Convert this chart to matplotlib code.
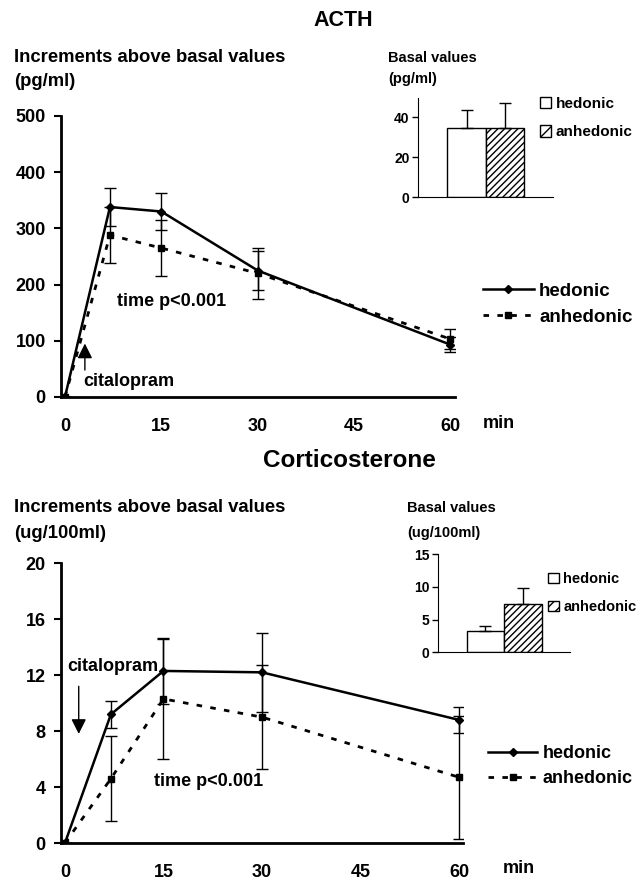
import matplotlib
matplotlib.use("Agg")
import matplotlib.pyplot as plt
from matplotlib.patches import Patch
from matplotlib.lines import Line2D

plt.rcParams['font.family'] = ['Liberation Sans', 'DejaVu Sans']
plt.rcParams['font.weight'] = 'bold'
plt.rcParams['hatch.linewidth'] = 1.0

# time points (min)
minutes = [0, 7, 15, 30, 60]
xticks = [0, 15, 30, 45, 60]
groups = ['hedonic', 'anhedonic']

# ACTH increments (pg/ml)
acth_hed = [0, 338, 330, 225, 93]
acth_hed_err = [0, 34, 33, 35, 13]
acth_anh = [0, 288, 265, 220, 103]
acth_anh_err = [0, 50, 50, 45, 18]
acth_basal = [34.5, 34.5]
acth_basal_err = [9, 12.5]

# corticosterone increments (ug/100ml)
cort_hed = [0, 9.2, 12.3, 12.2, 8.8]
cort_hed_err = [0, 0.95, 2.35, 2.8, 0.9]
cort_anh = [0, 4.6, 10.3, 9.0, 4.7]
cort_anh_err = [0, 3.05, 4.3, 3.7, 4.4]
cort_basal = [3.2, 7.4]
cort_basal_err = [0.8, 2.4]

fig = plt.figure(figsize=(6.44, 8.80), dpi=100)


def main_panel(rect, xlim, hed, hed_err, anh, anh_err, ylim, yticks):
    ax = fig.add_axes(rect)
    ax.errorbar(minutes, hed, yerr=hed_err, color='black', lw=1.8, marker='D', ms=4,
                ecolor='black', elinewidth=1, capsize=4, capthick=1)
    ax.errorbar(minutes, anh, yerr=anh_err, color='black', lw=2, ls=(0, (2, 3)), marker='s', ms=5,
                ecolor='black', elinewidth=1, capsize=4, capthick=1)
    ax.set_xlim(xlim)
    ax.set_ylim(ylim)
    ax.set_xticks(xticks)
    ax.set_yticks(yticks)
    for s in ['top', 'right']:
        ax.spines[s].set_visible(False)
    for s in ['left', 'bottom']:
        ax.spines[s].set_linewidth(2)
    ax.tick_params(axis='x', length=0, pad=15, labelsize=13)
    ax.tick_params(axis='y', length=5, width=1.5, pad=6, labelsize=13)
    return ax


def inset_panel(rect, vals, errs, ylim, yticks):
    ax = fig.add_axes(rect)
    pos = [0, 1]
    ax.bar(pos, vals, width=1.0, color='white', edgecolor='black', lw=1,
           hatch=['', '/////'], yerr=[[0, 0], errs],
           error_kw=dict(ecolor='black', elinewidth=1, capsize=4, capthick=1))
    ax.set_xlim(-1.26, 2.24)
    ax.set_ylim(ylim)
    ax.set_yticks(yticks)
    ax.set_xticks([])
    for s in ['top', 'right']:
        ax.spines[s].set_visible(False)
    ax.tick_params(axis='y', length=4, width=1, pad=2, labelsize=10)
    return ax


def line_legend(x, y, size=13.5):
    handles = [Line2D([], [], color='black', lw=1.8, marker='D', ms=4),
               Line2D([], [], color='black', lw=2, ls=(0, (2, 3)), marker='s', ms=5)]
    fig.legend(handles, groups, loc='upper left', bbox_to_anchor=(x, y), frameon=False,
               fontsize=size, handlelength=2.7, handletextpad=0.3, labelspacing=0.45)


def bar_legend(x, y, size=11):
    handles = [Patch(facecolor='white', edgecolor='black', lw=1),
               Patch(facecolor='white', edgecolor='black', lw=1, hatch='///')]
    fig.legend(handles, groups, loc='upper left', bbox_to_anchor=(x, y), frameon=False,
               fontsize=size, handlelength=0.75, handleheight=0.75, handletextpad=0.3,
               labelspacing=0.95)


# ACTH
ax1 = main_panel([0.0947, 0.5489, 0.6118, 0.3193], (-0.62, 60.7),
                 acth_hed, acth_hed_err, acth_anh, acth_anh_err, (0, 500), [0, 100, 200, 300, 400, 500])
ax1.annotate('', xy=(3.1, 100), xytext=(3.1, 43),
             arrowprops=dict(arrowstyle='-|>,head_length=0.9,head_width=0.45', color='black', lw=1))
ax1.text(2.8, 28, 'citalopram', fontsize=13, va='center', ha='left')
ax1.text(8.1, 169, 'time p<0.001', fontsize=13, va='center', ha='left')

ins1 = inset_panel([0.649, 0.776, 0.2096, 0.1125], acth_basal, acth_basal_err, (0, 49.5), [0, 20, 40])

fig.text(0.533, 1 - 20 / 880, 'ACTH', fontsize=15.5, ha='center', va='center')
fig.text(14 / 644, 1 - 57 / 880, 'Increments above basal values', fontsize=13.3, va='center')
fig.text(14 / 644, 1 - 82 / 880, '(pg/ml)', fontsize=13.3, va='center')
fig.text(388 / 644, 1 - 58 / 880, 'Basal values', fontsize=10.5, va='center')
fig.text(388 / 644, 1 - 79 / 880, '(pg/ml)', fontsize=10.5, va='center')
fig.text(483 / 644, 1 - 423 / 880, 'min', fontsize=13, va='center')
line_legend(466 / 644, 1 - 266 / 880)
bar_legend(526 / 644, 1 - 83 / 880)

# Corticosterone
ax2 = main_panel([0.0947, 0.042, 0.6242, 0.318], (-0.6, 60.6),
                 cort_hed, cort_hed_err, cort_anh, cort_anh_err, (0, 20), [0, 4, 8, 12, 16, 20])
ax2.annotate('', xy=(2.1, 7.6), xytext=(2.1, 11.4),
             arrowprops=dict(arrowstyle='-|>,head_length=0.9,head_width=0.45', color='black', lw=1))
ax2.text(0.3, 12.6, 'citalopram', fontsize=13, va='center', ha='left')
ax2.text(13.5, 4.4, 'time p<0.001', fontsize=13, va='center', ha='left')

ins2 = inset_panel([0.680, 0.259, 0.205, 0.111], cort_basal, cort_basal_err, (0, 15), [0, 5, 10, 15])

fig.text(0.543, 1 - 460 / 880, 'Corticosterone', fontsize=17.5, ha='center', va='center')
fig.text(14 / 644, 1 - 508 / 880, 'Increments above basal values', fontsize=13.3, va='center')
fig.text(14 / 644, 1 - 533 / 880, '(ug/100ml)', fontsize=13.3, va='center')
fig.text(407 / 644, 1 - 508 / 880, 'Basal values', fontsize=10.5, va='center')
fig.text(407 / 644, 1 - 533 / 880, '(ug/100ml)', fontsize=10.5, va='center')
fig.text(503 / 644, 1 - 868 / 880, 'min', fontsize=13, va='center')
line_legend(472 / 644, 1 - 729 / 880, size=13)
bar_legend(535 / 644, 1 - 559 / 880, size=10.5)

fig.savefig('out.png', dpi=100)
